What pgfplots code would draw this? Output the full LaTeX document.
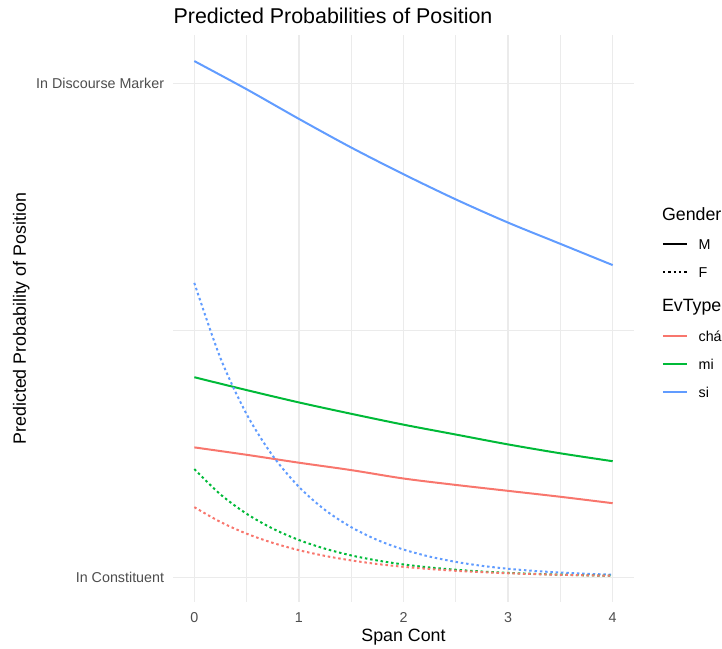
\documentclass[border=0pt]{standalone}
\usepackage{fontspec}
\setmainfont{Liberation Sans}
\usepackage{pgfplots}
\pgfplotsset{compat=1.18}
\definecolor{cha}{HTML}{F8766D}
\definecolor{mi}{HTML}{00BA38}
\definecolor{si}{HTML}{619CFF}
\definecolor{gridc}{HTML}{EBEBEB}
\definecolor{tickc}{HTML}{4D4D4D}
\newcommand{\tickfont}{\fontsize{14.3}{17}\selectfont}
\newcommand{\labfont}{\fontsize{17.8}{21}\selectfont}
\newcommand{\titfont}{\fontsize{21.4}{25}\selectfont}
\begin{document}
\begin{tikzpicture}
\useasboundingbox (-173.4pt,-46pt) rectangle (548.6pt,602pt);
\begin{axis}[
  at={(0pt,0pt)}, anchor=south west,
  scale only axis, width=460.2pt, height=566.6pt,
  xmin=-0.2, xmax=4.2, ymin=-0.05, ymax=1.097,
  xtick={0,1,2,3,4}, minor xtick={0.5,1.5,2.5,3.5},
  ytick={0,1}, yticklabels={In Constituent,In Discourse Marker}, minor ytick={0.5},
  grid=both,
  major grid style={gridc, line width=1.4pt},
  minor grid style={gridc, line width=0.9pt},
  axis line style={draw=none}, tick style={draw=none},
  /pgf/number format/assume math mode=true,
  ticklabel style={font=\tickfont, text=tickc},
  xticklabel style={anchor=base, yshift=-20pt},
  yticklabel style={anchor=east, inner sep=0pt, xshift=-9.1pt},
  clip=false,
]
\addplot[si, line width=2pt, smooth] coordinates {(0,1.045)(0.5,0.988)(1,0.928)(1.5,0.870)(2,0.816)(2.5,0.765)(3,0.718)(3.5,0.675)(4,0.632)};
\addplot[mi, line width=2pt, smooth] coordinates {(0,0.405)(0.5,0.379)(1,0.354)(1.5,0.331)(2,0.309)(2.5,0.289)(3,0.269)(3.5,0.251)(4,0.235)};
\addplot[cha, line width=2pt, smooth] coordinates {(0,0.263)(0.5,0.248)(1,0.232)(1.5,0.217)(2,0.200)(2.5,0.187)(3,0.175)(3.5,0.163)(4,0.150)};
\addplot[si, line width=2pt, smooth, dash pattern=on 2.5pt off 2.8pt] coordinates {(0,0.596)(0.25,0.4437)(0.5,0.3303)(0.75,0.2459)(1,0.1831)(1.25,0.1363)(1.5,0.1015)(1.75,0.0755)(2,0.0562)(2.25,0.0419)(2.5,0.0312)(2.75,0.0232)(3,0.0173)(3.25,0.0129)(3.5,0.0096)(3.75,0.0071)(4,0.0053)};
\addplot[mi, line width=2pt, smooth, dash pattern=on 2.5pt off 2.8pt] coordinates {(0,0.219)(0.25,0.1678)(0.5,0.1286)(0.75,0.0985)(1,0.0755)(1.25,0.0579)(1.5,0.0443)(1.75,0.0340)(2,0.0260)(2.25,0.0199)(2.5,0.0153)(2.75,0.0117)(3,0.0090)(3.25,0.0069)(3.5,0.0053)(3.75,0.0040)(4,0.0031)};
\addplot[cha, line width=2pt, smooth, dash pattern=on 2.5pt off 2.8pt] coordinates {(0,0.142)(0.25,0.1120)(0.5,0.0883)(0.75,0.0697)(1,0.0549)(1.25,0.0433)(1.5,0.0342)(1.75,0.0269)(2,0.0212)(2.25,0.0168)(2.5,0.0132)(2.75,0.0104)(3,0.0082)(3.25,0.0065)(3.5,0.0051)(3.75,0.0040)(4,0.0032)};
\end{axis}
% titles
\node[anchor=base west, inner sep=0pt, font=\titfont] at (0pt,578.5pt) {Predicted Probabilities of Position};
\node[anchor=base, inner sep=0pt, font=\labfont] at (230.1pt,-39.7pt) {Span Cont};
\node[rotate=90, anchor=base, inner sep=0pt, font=\labfont] at (-147.4pt,283.3pt) {Predicted Probability of Position};
% legend
\node[anchor=base west, inner sep=0pt, font=\labfont] at (488.4pt,381.3pt) {Gender};
\draw[black, line width=2pt] (489.5pt,358pt) -- (513.3pt,358pt);
\node[anchor=base west, inner sep=0pt, font=\tickfont] at (525pt,352.9pt) {M};
\draw[black, line width=2pt, dash pattern=on 2.5pt off 2.8pt] (489.5pt,330pt) -- (513.3pt,330pt);
\node[anchor=base west, inner sep=0pt, font=\tickfont] at (525pt,324.9pt) {F};
\node[anchor=base west, inner sep=0pt, font=\labfont] at (488.4pt,290pt) {EvType};
\draw[cha, line width=2pt] (489.5pt,266pt) -- (513.3pt,266pt);
\node[anchor=base west, inner sep=0pt, font=\tickfont] at (525pt,260.9pt) {chá};
\draw[mi, line width=2pt] (489.5pt,238pt) -- (513.3pt,238pt);
\node[anchor=base west, inner sep=0pt, font=\tickfont] at (525pt,232.9pt) {mi};
\draw[si, line width=2pt] (489.5pt,210pt) -- (513.3pt,210pt);
\node[anchor=base west, inner sep=0pt, font=\tickfont] at (525pt,204.9pt) {si};
\end{tikzpicture}
\end{document}
